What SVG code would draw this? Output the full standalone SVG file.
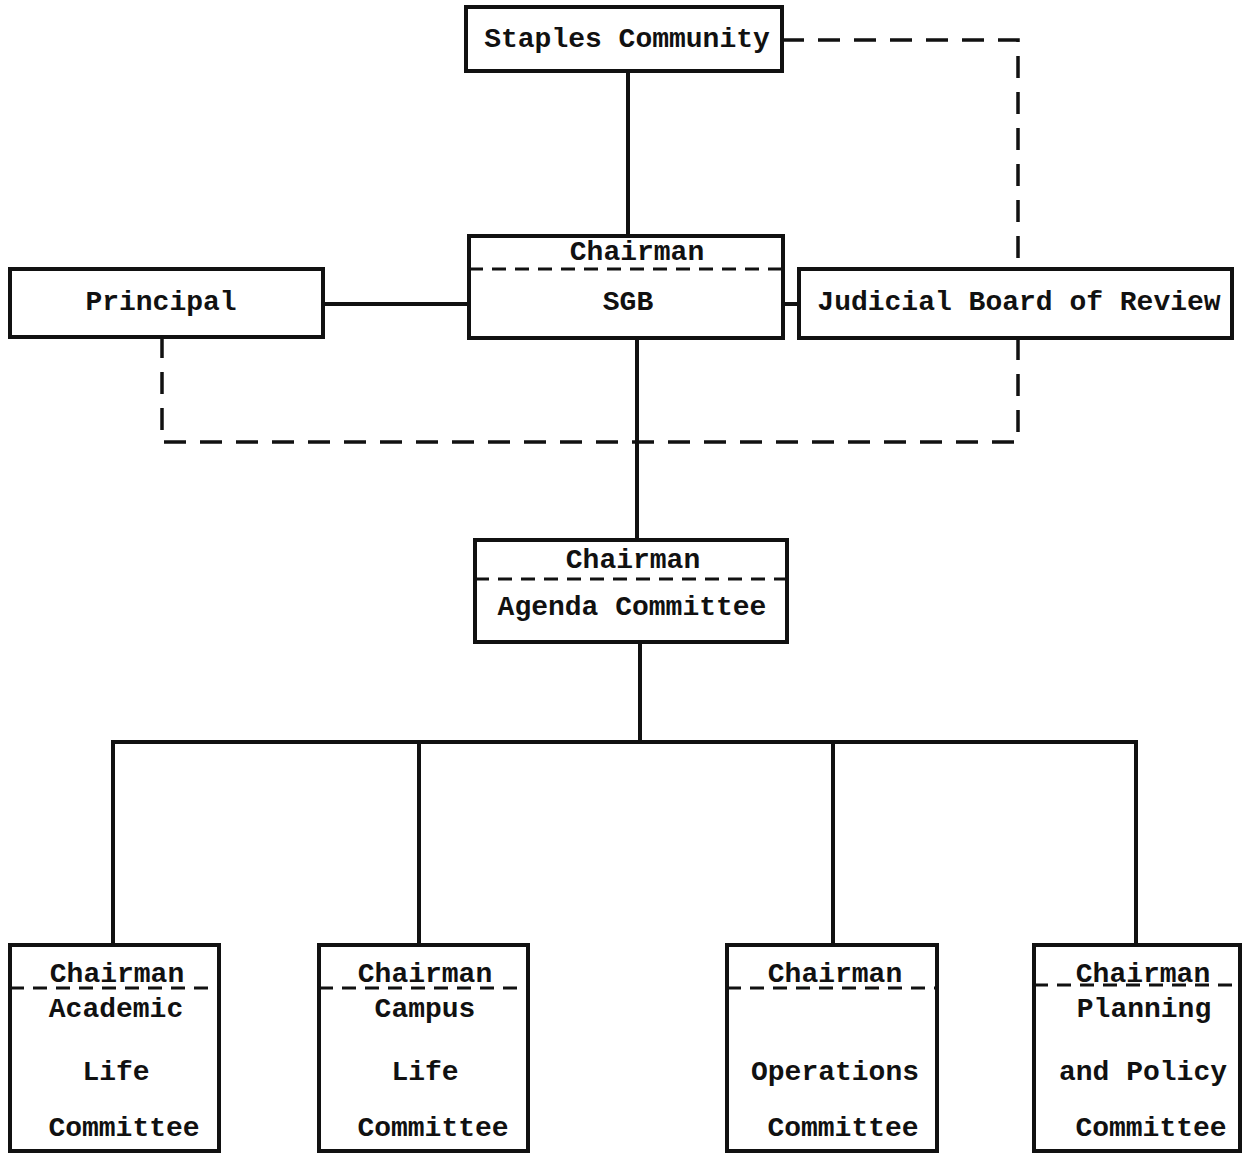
<svg xmlns="http://www.w3.org/2000/svg" width="1244" height="1153" viewBox="0 0 1244 1153">
<style>
.box{fill:#fff;stroke:#111;stroke-width:4}
.div{stroke:#111;stroke-width:3;stroke-dasharray:14 9;fill:none}
.ln{stroke:#111;stroke-width:4;fill:none}
.dl{stroke:#111;stroke-width:3.5;fill:none;stroke-dasharray:22 14}
text{font-family:"Liberation Mono","DejaVu Sans Mono",monospace;font-size:28px;font-weight:bold;fill:#111;text-anchor:middle}
</style>
<rect width="1244" height="1153" fill="#fff"/>
<g id="connectors">
<line class="ln" x1="628" y1="71" x2="628" y2="236"/>
<line class="ln" x1="323" y1="304" x2="469" y2="304"/>
<line class="ln" x1="783" y1="304" x2="799" y2="304"/>
<line class="ln" x1="637" y1="338" x2="637" y2="540"/>
<line class="ln" x1="640" y1="642" x2="640" y2="742"/>
<line class="ln" x1="111" y1="742" x2="1138" y2="742"/>
<line class="ln" x1="113" y1="742" x2="113" y2="945"/>
<line class="ln" x1="419" y1="742" x2="419" y2="945"/>
<line class="ln" x1="833" y1="742" x2="833" y2="945"/>
<line class="ln" x1="1136" y1="742" x2="1136" y2="945"/>
<path class="dl" d="M782 40 H1018 V269"/>
<path class="dl" d="M1018 338 V442 H162 V337"/>
</g>
<g id="staples">
<rect class="box" x="466" y="7" width="316" height="64"/>
<text x="627" y="47">Staples Community</text>
</g>
<g id="sgb">
<rect class="box" x="469" y="236" width="314" height="102"/>
<line class="div" x1="469" y1="269" x2="783" y2="269"/>
<text x="637" y="260">Chairman</text>
<text x="628" y="310">SGB</text>
</g>
<g id="principal">
<rect class="box" x="10" y="269" width="313" height="68"/>
<text x="161" y="310">Principal</text>
</g>
<g id="judicial">
<rect class="box" x="799" y="269" width="433" height="69"/>
<text x="1019" y="310">Judicial Board of Review</text>
</g>
<g id="agenda">
<rect class="box" x="475" y="540" width="312" height="102"/>
<line class="div" x1="475" y1="579" x2="787" y2="579"/>
<text x="633" y="568">Chairman</text>
<text x="632" y="615">Agenda Committee</text>
</g>
<g id="academic">
<rect class="box" x="10" y="945" width="209" height="206"/>
<line class="div" x1="10" y1="988" x2="219" y2="988"/>
<text x="117" y="982">Chairman</text>
<text x="116" y="1017">Academic</text>
<text x="116" y="1080">Life</text>
<text x="124" y="1136">Committee</text>
</g>
<g id="campus">
<rect class="box" x="319" y="945" width="209" height="206"/>
<line class="div" x1="319" y1="988" x2="528" y2="988"/>
<text x="425" y="982">Chairman</text>
<text x="425" y="1017">Campus</text>
<text x="425" y="1080">Life</text>
<text x="433" y="1136">Committee</text>
</g>
<g id="operations">
<rect class="box" x="727" y="945" width="210" height="206"/>
<line class="div" x1="727" y1="988" x2="937" y2="988"/>
<text x="835" y="982">Chairman</text>
<text x="835" y="1080">Operations</text>
<text x="843" y="1136">Committee</text>
</g>
<g id="planning">
<rect class="box" x="1034" y="945" width="206" height="206"/>
<line class="div" x1="1034" y1="985" x2="1240" y2="985"/>
<text x="1143" y="982">Chairman</text>
<text x="1144" y="1017">Planning</text>
<text x="1143" y="1080">and Policy</text>
<text x="1151" y="1136">Committee</text>
</g>
</svg>
